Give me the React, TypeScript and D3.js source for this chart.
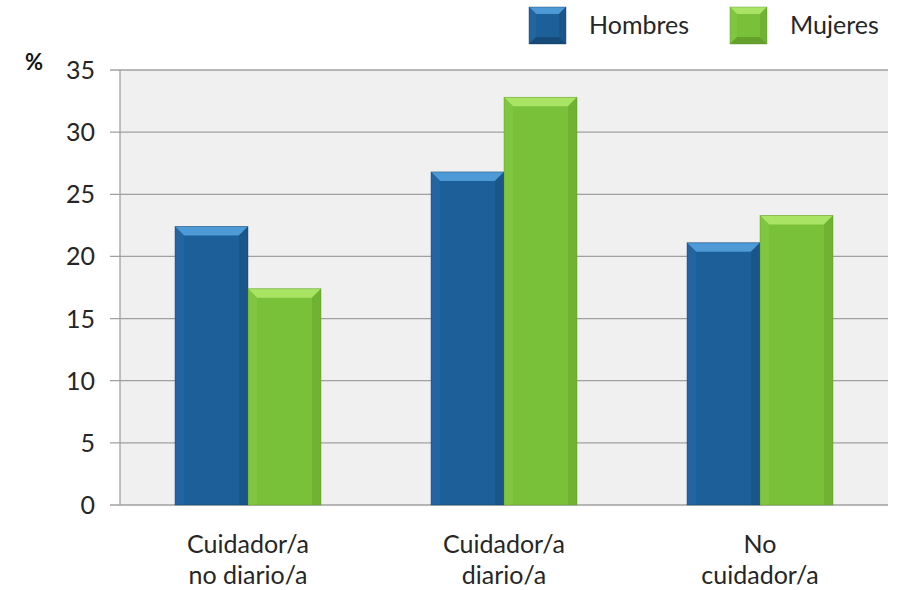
import React, { useEffect } from "react";
import * as d3 from "d3";

const categories: string[][] = [["Cuidador/a", "no diario/a"], ["Cuidador/a", "diario/a"], ["No", "cuidador/a"]];
const seriesNames = ["Hombres", "Mujeres"];
const hombres = [22.4, 26.8, 21.1];
const mujeres = [17.4, 32.8, 23.3];
const yTicks = [0, 5, 10, 15, 20, 25, 30, 35];

const W = 903, H = 590;
const FONT = "Lato, 'Open Sans', sans-serif";
const colors = [
  { main: "#1d5f98", top: "#4d9ad6", side: "#1a5689", light: "#2265a0", edge: "#0f3d66", bot: "#164a78" },
  { main: "#7ac13a", top: "#a9e464", side: "#70b334", light: "#80c640", edge: "#5a9426", bot: "#63a02c" },
];

function Bar({ x, y, w, h, c, legend }: { x: number; y: number; w: number; h: number; c: typeof colors[0]; legend?: boolean }) {
  const b = Math.min(legend ? 7 : 9, h / 2);
  const x2 = x + w, y2 = y + h;
  const yb = legend ? y2 - b : y2;
  return (
    <g>
      <rect x={x} y={y} width={w} height={h} fill={c.main} />
      <polygon points={`${x},${y} ${x2},${y} ${x2 - b},${y + b} ${x + b},${y + b}`} fill={c.top} />
      <polygon points={`${x},${y} ${x + b},${y + b} ${x + b},${yb} ${x},${y2}`} fill={c.light} />
      <polygon points={`${x2},${y} ${x2 - b},${y + b} ${x2 - b},${yb} ${x2},${y2}`} fill={c.side} />
      {legend && <polygon points={`${x},${y2} ${x + b},${yb} ${x2 - b},${yb} ${x2},${y2}`} fill={c.bot} />}
      <rect x={x} y={y} width={w} height={h} fill="none" stroke={c.edge} strokeWidth={0.8} opacity={0.5} />
    </g>
  );
}

export default function App() {
  useEffect(() => {
    document.body.style.margin = "0";
  }, []);
  const left = 120, right = 888, top = 70, bottom = 505;
  const y = d3.scaleLinear().domain([0, 35]).range([bottom, top]);
  const x0 = d3.scaleBand<number>().domain(categories.map((_, i) => i)).range([left, right]).paddingInner(0).paddingOuter(0);
  const pairW = 146;
  const x1 = d3.scaleBand<number>().domain([0, 1]).range([0, pairW]);
  const data = [hombres, mujeres];
  return (
    <svg width={W} height={H} style={{ position: "absolute", left: 0, top: 0, fontFamily: FONT }}>
      <rect x={left} y={top} width={right - left} height={bottom - top} fill="#f0f0f0" />
      {yTicks.map((t) => (
        <g key={t}>
          <line x1={left - 10} x2={right} y1={y(t)} y2={y(t)} stroke="#a0a0a0" strokeWidth={1.3} />
          <text x={95} y={y(t)} dy="0.36em" textAnchor="end" fontSize={25} fill="#262626">{t}</text>
        </g>
      ))}
      <line x1={left} x2={left} y1={top} y2={bottom} stroke="#a0a0a0" strokeWidth={1.3} />
      <text x={25} y={70} fontSize={22} fontWeight="bold" fill="#111">%</text>
      {categories.map((cat, i) => {
        const cx = x0(i)! + x0.bandwidth() / 2;
        const gx = cx - pairW / 2;
        return (
          <g key={i}>
            {data.map((s, k) => (
              <Bar key={k} x={gx + x1(k)!} y={y(s[i])} w={x1.bandwidth()} h={bottom - y(s[i])} c={colors[k]} />
            ))}
            {cat.map((line, j) => (
              <text key={j} x={cx} y={553 + j * 31} textAnchor="middle" fontSize={25} fill="#262626">{line}</text>
            ))}
          </g>
        );
      })}
      {seriesNames.map((n, k) => {
        const lx = [529, 730][k];
        return (
          <g key={n}>
            <Bar x={lx} y={7} w={37} h={37} c={colors[k]} legend />
            <text x={lx + 60} y={34} fontSize={25} fill="#262626">{n}</text>
          </g>
        );
      })}
    </svg>
  );
}
